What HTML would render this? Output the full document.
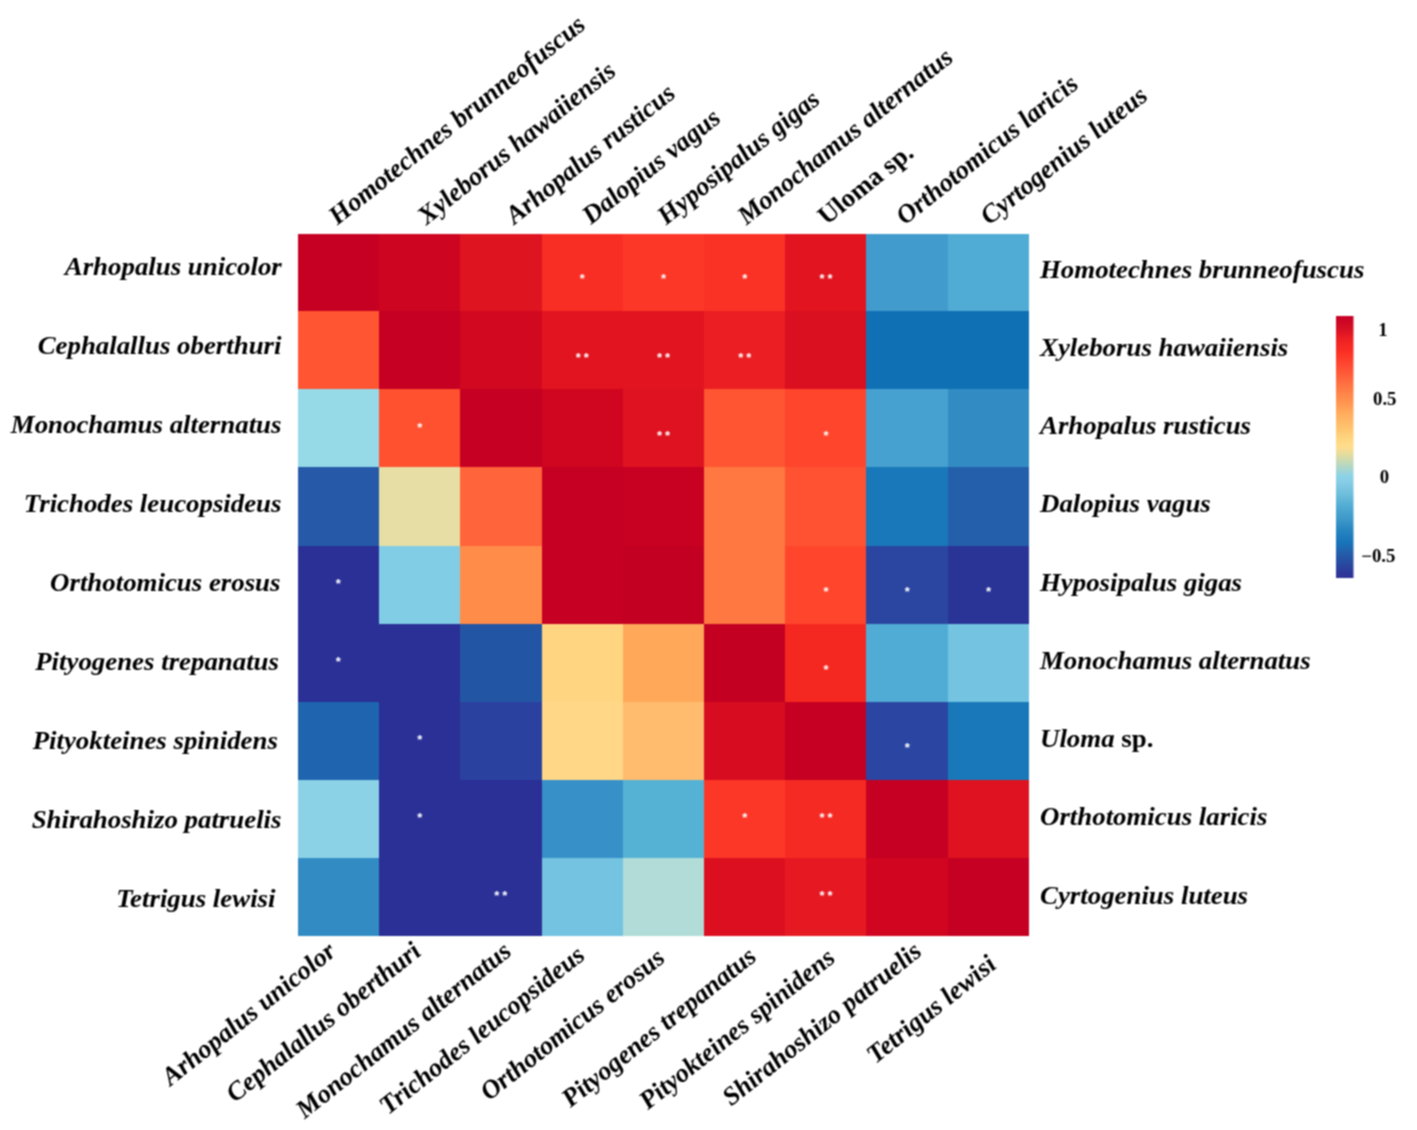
<!DOCTYPE html><html><head><meta charset="utf-8"><style>html,body{margin:0;padding:0;background:#fff;width:1417px;height:1130px;overflow:hidden}svg{display:block}text{font-family:"Liberation Serif",serif;font-weight:bold}</style></head><body>
<div id="w">
<svg width="1417" height="1130" viewBox="0 0 1417 1130">
<defs><filter id="bl" x="0" y="0" width="1417" height="1130" filterUnits="userSpaceOnUse" color-interpolation-filters="sRGB"><feConvolveMatrix order="3" kernelMatrix="1 2 1 2 4 2 1 2 1" divisor="16" edgeMode="duplicate"/></filter></defs>
<rect width="1417" height="1130" fill="#fff"/><g filter="url(#bl)"><rect width="1417" height="1130" fill="#fff"/>
<g shape-rendering="crispEdges">
<rect x="298" y="234" width="81" height="77" fill="#c50022"/>
<rect x="379" y="234" width="81" height="77" fill="#cd0520"/>
<rect x="460" y="234" width="82" height="77" fill="#de1420"/>
<rect x="542" y="234" width="81" height="77" fill="#f82d23"/>
<rect x="623" y="234" width="81" height="77" fill="#fc3728"/>
<rect x="704" y="234" width="81" height="77" fill="#fa3226"/>
<rect x="785" y="234" width="81" height="77" fill="#e11420"/>
<rect x="866" y="234" width="82" height="77" fill="#419bcd"/>
<rect x="948" y="234" width="81" height="77" fill="#50acd4"/>
<rect x="298" y="311" width="81" height="78" fill="#ff5532"/>
<rect x="379" y="311" width="81" height="78" fill="#c50022"/>
<rect x="460" y="311" width="82" height="78" fill="#d20820"/>
<rect x="542" y="311" width="81" height="78" fill="#e11420"/>
<rect x="623" y="311" width="81" height="78" fill="#e11420"/>
<rect x="704" y="311" width="81" height="78" fill="#eb1e23"/>
<rect x="785" y="311" width="81" height="78" fill="#da0f20"/>
<rect x="866" y="311" width="82" height="78" fill="#0f70b4"/>
<rect x="948" y="311" width="81" height="78" fill="#0f70b4"/>
<rect x="298" y="389" width="81" height="78" fill="#96dae8"/>
<rect x="379" y="389" width="81" height="78" fill="#ff5030"/>
<rect x="460" y="389" width="82" height="78" fill="#c50022"/>
<rect x="542" y="389" width="81" height="78" fill="#d00520"/>
<rect x="623" y="389" width="81" height="78" fill="#de1220"/>
<rect x="704" y="389" width="81" height="78" fill="#ff5532"/>
<rect x="785" y="389" width="81" height="78" fill="#ff462d"/>
<rect x="866" y="389" width="82" height="78" fill="#46a0d0"/>
<rect x="948" y="389" width="81" height="78" fill="#328cc3"/>
<rect x="298" y="467" width="81" height="79" fill="#265aa8"/>
<rect x="379" y="467" width="81" height="79" fill="#e6dea5"/>
<rect x="460" y="467" width="82" height="79" fill="#ff643a"/>
<rect x="542" y="467" width="81" height="79" fill="#c50022"/>
<rect x="623" y="467" width="81" height="79" fill="#c80022"/>
<rect x="704" y="467" width="81" height="79" fill="#ff7841"/>
<rect x="785" y="467" width="81" height="79" fill="#ff5232"/>
<rect x="866" y="467" width="82" height="79" fill="#1978b9"/>
<rect x="948" y="467" width="81" height="79" fill="#235faa"/>
<rect x="298" y="546" width="81" height="78" fill="#2a3096"/>
<rect x="379" y="546" width="81" height="78" fill="#82cde6"/>
<rect x="460" y="546" width="82" height="78" fill="#ff8c48"/>
<rect x="542" y="546" width="81" height="78" fill="#c50022"/>
<rect x="623" y="546" width="81" height="78" fill="#c30022"/>
<rect x="704" y="546" width="81" height="78" fill="#ff7841"/>
<rect x="785" y="546" width="81" height="78" fill="#ff462d"/>
<rect x="866" y="546" width="82" height="78" fill="#2a46a0"/>
<rect x="948" y="546" width="81" height="78" fill="#2a3496"/>
<rect x="298" y="624" width="81" height="78" fill="#2a3096"/>
<rect x="379" y="624" width="81" height="78" fill="#2a3096"/>
<rect x="460" y="624" width="82" height="78" fill="#2355a5"/>
<rect x="542" y="624" width="81" height="78" fill="#ffd582"/>
<rect x="623" y="624" width="81" height="78" fill="#ffa85a"/>
<rect x="704" y="624" width="81" height="78" fill="#c30022"/>
<rect x="785" y="624" width="81" height="78" fill="#f52821"/>
<rect x="866" y="624" width="82" height="78" fill="#50acd4"/>
<rect x="948" y="624" width="81" height="78" fill="#73c3e1"/>
<rect x="298" y="702" width="81" height="78" fill="#1e64af"/>
<rect x="379" y="702" width="81" height="78" fill="#2a3096"/>
<rect x="460" y="702" width="82" height="78" fill="#2a41a0"/>
<rect x="542" y="702" width="81" height="78" fill="#ffd787"/>
<rect x="623" y="702" width="81" height="78" fill="#ffbb6e"/>
<rect x="704" y="702" width="81" height="78" fill="#d70c20"/>
<rect x="785" y="702" width="81" height="78" fill="#c50022"/>
<rect x="866" y="702" width="82" height="78" fill="#2a46a2"/>
<rect x="948" y="702" width="81" height="78" fill="#1978b9"/>
<rect x="298" y="780" width="81" height="78" fill="#8cd2e6"/>
<rect x="379" y="780" width="81" height="78" fill="#2a3096"/>
<rect x="460" y="780" width="82" height="78" fill="#2a3096"/>
<rect x="542" y="780" width="81" height="78" fill="#3791c8"/>
<rect x="623" y="780" width="81" height="78" fill="#55b2d5"/>
<rect x="704" y="780" width="81" height="78" fill="#fc3728"/>
<rect x="785" y="780" width="81" height="78" fill="#f52a23"/>
<rect x="866" y="780" width="82" height="78" fill="#c50022"/>
<rect x="948" y="780" width="81" height="78" fill="#de1220"/>
<rect x="298" y="858" width="81" height="78" fill="#328cc3"/>
<rect x="379" y="858" width="81" height="78" fill="#2a3096"/>
<rect x="460" y="858" width="82" height="78" fill="#2a3096"/>
<rect x="542" y="858" width="81" height="78" fill="#73c3e1"/>
<rect x="623" y="858" width="81" height="78" fill="#b2dcd7"/>
<rect x="704" y="858" width="81" height="78" fill="#dc0f20"/>
<rect x="785" y="858" width="81" height="78" fill="#e61923"/>
<rect x="866" y="858" width="82" height="78" fill="#d20520"/>
<rect x="948" y="858" width="81" height="78" fill="#c50022"/>
</g>
<text x="582.2" y="283.4" text-anchor="middle" fill="#fff" style="font-family:'Liberation Sans';font-weight:bold;font-size:13px">*</text>
<text x="663.5" y="283.4" text-anchor="middle" fill="#fff" style="font-family:'Liberation Sans';font-weight:bold;font-size:13px">*</text>
<text x="744.7" y="283.4" text-anchor="middle" fill="#fff" style="font-family:'Liberation Sans';font-weight:bold;font-size:13px">*</text>
<text x="822.0" y="283.4" text-anchor="middle" fill="#fff" style="font-family:'Liberation Sans';font-weight:bold;font-size:13px">*</text>
<text x="830.0" y="283.4" text-anchor="middle" fill="#fff" style="font-family:'Liberation Sans';font-weight:bold;font-size:13px">*</text>
<text x="578.2" y="361.5" text-anchor="middle" fill="#fff" style="font-family:'Liberation Sans';font-weight:bold;font-size:13px">*</text>
<text x="586.2" y="361.5" text-anchor="middle" fill="#fff" style="font-family:'Liberation Sans';font-weight:bold;font-size:13px">*</text>
<text x="659.5" y="361.5" text-anchor="middle" fill="#fff" style="font-family:'Liberation Sans';font-weight:bold;font-size:13px">*</text>
<text x="667.5" y="361.5" text-anchor="middle" fill="#fff" style="font-family:'Liberation Sans';font-weight:bold;font-size:13px">*</text>
<text x="740.7" y="361.5" text-anchor="middle" fill="#fff" style="font-family:'Liberation Sans';font-weight:bold;font-size:13px">*</text>
<text x="748.7" y="361.5" text-anchor="middle" fill="#fff" style="font-family:'Liberation Sans';font-weight:bold;font-size:13px">*</text>
<text x="419.7" y="431.9" text-anchor="middle" fill="#fff" style="font-family:'Liberation Sans';font-weight:bold;font-size:13px">*</text>
<text x="659.5" y="439.6" text-anchor="middle" fill="#fff" style="font-family:'Liberation Sans';font-weight:bold;font-size:13px">*</text>
<text x="667.5" y="439.6" text-anchor="middle" fill="#fff" style="font-family:'Liberation Sans';font-weight:bold;font-size:13px">*</text>
<text x="826.0" y="439.6" text-anchor="middle" fill="#fff" style="font-family:'Liberation Sans';font-weight:bold;font-size:13px">*</text>
<text x="338.4" y="588.0" text-anchor="middle" fill="#fff" style="font-family:'Liberation Sans';font-weight:bold;font-size:13px">*</text>
<text x="826.0" y="595.7" text-anchor="middle" fill="#fff" style="font-family:'Liberation Sans';font-weight:bold;font-size:13px">*</text>
<text x="907.2" y="595.7" text-anchor="middle" fill="#fff" style="font-family:'Liberation Sans';font-weight:bold;font-size:13px">*</text>
<text x="988.5" y="595.7" text-anchor="middle" fill="#fff" style="font-family:'Liberation Sans';font-weight:bold;font-size:13px">*</text>
<text x="338.4" y="666.0" text-anchor="middle" fill="#fff" style="font-family:'Liberation Sans';font-weight:bold;font-size:13px">*</text>
<text x="826.0" y="673.7" text-anchor="middle" fill="#fff" style="font-family:'Liberation Sans';font-weight:bold;font-size:13px">*</text>
<text x="419.7" y="744.1" text-anchor="middle" fill="#fff" style="font-family:'Liberation Sans';font-weight:bold;font-size:13px">*</text>
<text x="907.2" y="751.8" text-anchor="middle" fill="#fff" style="font-family:'Liberation Sans';font-weight:bold;font-size:13px">*</text>
<text x="419.7" y="822.2" text-anchor="middle" fill="#fff" style="font-family:'Liberation Sans';font-weight:bold;font-size:13px">*</text>
<text x="744.7" y="822.2" text-anchor="middle" fill="#fff" style="font-family:'Liberation Sans';font-weight:bold;font-size:13px">*</text>
<text x="822.0" y="822.2" text-anchor="middle" fill="#fff" style="font-family:'Liberation Sans';font-weight:bold;font-size:13px">*</text>
<text x="830.0" y="822.2" text-anchor="middle" fill="#fff" style="font-family:'Liberation Sans';font-weight:bold;font-size:13px">*</text>
<text x="496.9" y="900.2" text-anchor="middle" fill="#fff" style="font-family:'Liberation Sans';font-weight:bold;font-size:13px">*</text>
<text x="504.9" y="900.2" text-anchor="middle" fill="#fff" style="font-family:'Liberation Sans';font-weight:bold;font-size:13px">*</text>
<text x="822.0" y="900.2" text-anchor="middle" fill="#fff" style="font-family:'Liberation Sans';font-weight:bold;font-size:13px">*</text>
<text x="830.0" y="900.2" text-anchor="middle" fill="#fff" style="font-family:'Liberation Sans';font-weight:bold;font-size:13px">*</text>
<text transform="translate(281.8 274.5) scale(1.045 1)" text-anchor="end" font-style="italic" font-size="25.7">Arhopalus unicolor</text>
<text transform="translate(281.5 353.6) scale(1.045 1)" text-anchor="end" font-style="italic" font-size="25.7">Cephalallus oberthuri</text>
<text transform="translate(281.5 432.7) scale(1.045 1)" text-anchor="end" font-style="italic" font-size="25.7">Monochamus alternatus</text>
<text transform="translate(281.5 511.8) scale(1.045 1)" text-anchor="end" font-style="italic" font-size="25.7">Trichodes leucopsideus</text>
<text transform="translate(280.5 590.9) scale(1.045 1)" text-anchor="end" font-style="italic" font-size="25.7">Orthotomicus erosus</text>
<text transform="translate(279.0 670.0) scale(1.045 1)" text-anchor="end" font-style="italic" font-size="25.7">Pityogenes trepanatus</text>
<text transform="translate(277.9 749.1) scale(1.045 1)" text-anchor="end" font-style="italic" font-size="25.7">Pityokteines spinidens</text>
<text transform="translate(281.5 828.2) scale(1.045 1)" text-anchor="end" font-style="italic" font-size="25.7">Shirahoshizo patruelis</text>
<text transform="translate(275.5 907.3) scale(1.045 1)" text-anchor="end" font-style="italic" font-size="25.7">Tetrigus lewisi</text>
<text transform="translate(1040 277.6) scale(1.045 1)" font-style="italic" font-size="25.7">Homotechnes brunneofuscus</text>
<text transform="translate(1040 355.9) scale(1.045 1)" font-style="italic" font-size="25.7">Xyleborus hawaiiensis</text>
<text transform="translate(1040 434.1) scale(1.045 1)" font-style="italic" font-size="25.7">Arhopalus rusticus</text>
<text transform="translate(1040 512.4) scale(1.045 1)" font-style="italic" font-size="25.7">Dalopius vagus</text>
<text transform="translate(1040 590.6) scale(1.045 1)" font-style="italic" font-size="25.7">Hyposipalus gigas</text>
<text transform="translate(1040 668.9) scale(1.045 1)" font-style="italic" font-size="25.7">Monochamus alternatus</text>
<text transform="translate(1040 747.1) scale(1.045 1)" font-style="italic" font-size="25.7"><tspan>Uloma</tspan><tspan font-style="normal"> sp.</tspan></text>
<text transform="translate(1040 825.4) scale(1.045 1)" font-style="italic" font-size="25.7">Orthotomicus laricis</text>
<text transform="translate(1040 903.6) scale(1.045 1)" font-style="italic" font-size="25.7">Cyrtogenius luteus</text>
<text transform="translate(337.6 225.5) scale(1.045 1) rotate(-39.7)" font-style="italic" font-size="25.7">Homotechnes brunneofuscus</text>
<text transform="translate(426.4 225.5) scale(1.045 1) rotate(-39.7)" font-style="italic" font-size="25.7">Xyleborus hawaiiensis</text>
<text transform="translate(514.6 225) scale(1.045 1) rotate(-39.7)" font-style="italic" font-size="25.7">Arhopalus rusticus</text>
<text transform="translate(590.9 225) scale(1.045 1) rotate(-39.7)" font-style="italic" font-size="25.7">Dalopius vagus</text>
<text transform="translate(666.2 225.5) scale(1.045 1) rotate(-39.7)" font-style="italic" font-size="25.7">Hyposipalus gigas</text>
<text transform="translate(746.4 225.5) scale(1.045 1) rotate(-39.7)" font-style="italic" font-size="25.7">Monochamus alternatus</text>
<text transform="translate(826.7 225.5) scale(1.045 1) rotate(-39.7)" font-style="normal" font-size="25.7">Uloma sp.</text>
<text transform="translate(905.0 225.5) scale(1.045 1) rotate(-39.7)" font-style="italic" font-size="25.7">Orthotomicus laricis</text>
<text transform="translate(989.2 225.5) scale(1.045 1) rotate(-39.7)" font-style="italic" font-size="25.7">Cyrtogenius luteus</text>
<text transform="translate(337.5 953.9000000000001) scale(1.045 1) rotate(-39.7)" text-anchor="end" font-style="italic" font-size="25.7">Arhopalus unicolor</text>
<text transform="translate(422.7 953.9000000000001) scale(1.045 1) rotate(-39.7)" text-anchor="end" font-style="italic" font-size="25.7">Cephalallus oberthuri</text>
<text transform="translate(513.1 953.9000000000001) scale(1.045 1) rotate(-39.7)" text-anchor="end" font-style="italic" font-size="25.7">Monochamus alternatus</text>
<text transform="translate(586.5 957.8000000000001) scale(1.045 1) rotate(-39.7)" text-anchor="end" font-style="italic" font-size="25.7">Trichodes leucopsideus</text>
<text transform="translate(666.5 960.4000000000001) scale(1.045 1) rotate(-39.7)" text-anchor="end" font-style="italic" font-size="25.7">Orthotomicus erosus</text>
<text transform="translate(758.1 959.1) scale(1.045 1) rotate(-39.7)" text-anchor="end" font-style="italic" font-size="25.7">Pityogenes trepanatus</text>
<text transform="translate(836.8 960.4000000000001) scale(1.045 1) rotate(-39.7)" text-anchor="end" font-style="italic" font-size="25.7">Pityokteines spinidens</text>
<text transform="translate(923.4 953.9000000000001) scale(1.045 1) rotate(-39.7)" text-anchor="end" font-style="italic" font-size="25.7">Shirahoshizo patruelis</text>
<text transform="translate(998.0 966.9000000000001) scale(1.045 1) rotate(-39.7)" text-anchor="end" font-style="italic" font-size="25.7">Tetrigus lewisi</text>
<defs><linearGradient id="cb" x1="0" y1="0" x2="0" y2="1">
<stop offset="0.0000" stop-color="#c50026"/>
<stop offset="0.0496" stop-color="#d70f23"/>
<stop offset="0.0954" stop-color="#f02323"/>
<stop offset="0.1336" stop-color="#fa2d23"/>
<stop offset="0.1908" stop-color="#ff4b32"/>
<stop offset="0.2366" stop-color="#ff643c"/>
<stop offset="0.2824" stop-color="#ff7d46"/>
<stop offset="0.3321" stop-color="#ff9650"/>
<stop offset="0.3779" stop-color="#ffaf5f"/>
<stop offset="0.4275" stop-color="#ffc36e"/>
<stop offset="0.4733" stop-color="#ffd782"/>
<stop offset="0.5000" stop-color="#ffdc8c"/>
<stop offset="0.5305" stop-color="#e1dca0"/>
<stop offset="0.5725" stop-color="#b4d7c3"/>
<stop offset="0.6107" stop-color="#8cd2e6"/>
<stop offset="0.6336" stop-color="#87cde6"/>
<stop offset="0.6794" stop-color="#6ebedc"/>
<stop offset="0.7290" stop-color="#50aad2"/>
<stop offset="0.7786" stop-color="#3c96c8"/>
<stop offset="0.8244" stop-color="#2382be"/>
<stop offset="0.8664" stop-color="#1973b9"/>
<stop offset="0.9046" stop-color="#235faa"/>
<stop offset="0.9427" stop-color="#284ba0"/>
<stop offset="0.9809" stop-color="#2d3798"/>
<stop offset="1.0000" stop-color="#2d3296"/>
</linearGradient></defs>
<rect x="1336" y="316" width="17.5" height="262" fill="url(#cb)"/>
<text transform="translate(1378.3 335.5) scale(1.045 1)" font-size="18">1</text>
<text transform="translate(1373 404.6) scale(1.045 1)" font-size="18">0.5</text>
<text transform="translate(1379.8 483.1) scale(1.045 1)" font-size="18">0</text>
<text transform="translate(1361.2 562.1) scale(1.045 1)" font-size="18">−0.5</text>
</g></svg></div></body></html>
